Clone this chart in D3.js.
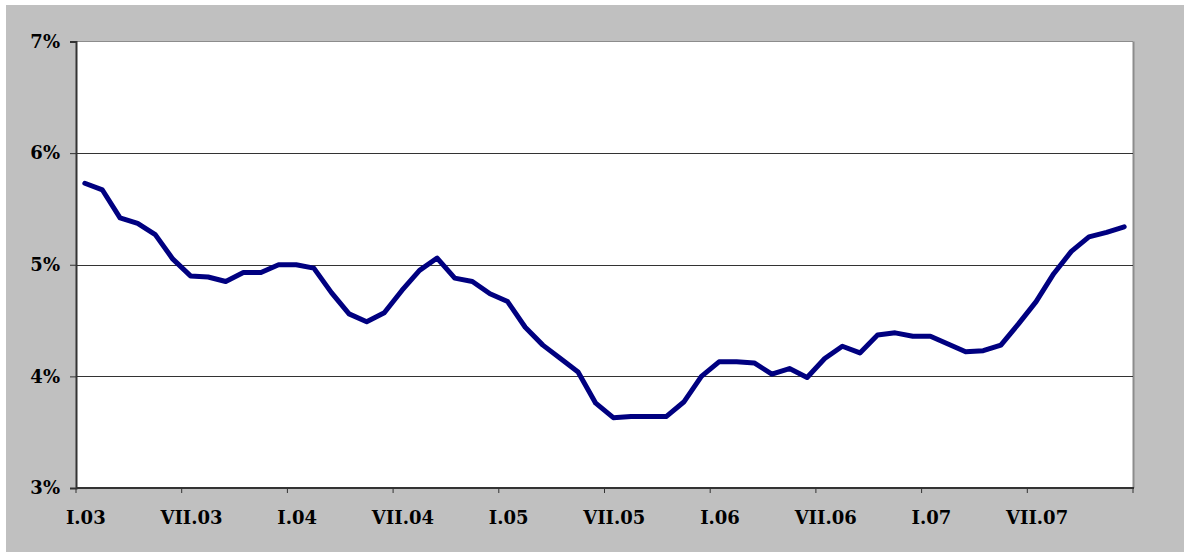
<!DOCTYPE html>
<html><head><meta charset="utf-8">
<script src="https://cdn.jsdelivr.net/npm/d3@7"></script>
<style>html,body{margin:0;padding:0;background:#fff;}svg{display:block;}</style>
</head><body>
<script>
const months = d3.range(60).map(i => `${2003 + Math.floor(i / 12)}-${String(i % 12 + 1).padStart(2, "0")}`);
const values = [5.73,5.67,5.42,5.37,5.27,5.05,4.90,4.89,4.85,4.93,4.93,5.00,
                5.00,4.97,4.75,4.56,4.49,4.57,4.77,4.95,5.06,4.88,4.85,4.74,
                4.67,4.44,4.28,4.16,4.04,3.76,3.63,3.64,3.64,3.64,3.77,4.00,
                4.13,4.13,4.12,4.02,4.07,3.99,4.16,4.27,4.21,4.37,4.39,4.36,
                4.36,4.29,4.22,4.23,4.28,4.47,4.67,4.92,5.12,5.25,5.29,5.34];
const xTickLabels = ["I.03","VII.03","I.04","VII.04","I.05","VII.05","I.06","VII.06","I.07","VII.07"];
const yTicks = [3,4,5,6,7];

const W = 1184, H = 552;
const m = {left: 76, right: 1133, top: 41.5, bottom: 488};
const svg = d3.select("body").append("svg").attr("width", W).attr("height", H);
svg.append("rect").attr("width", W).attr("height", H).attr("fill", "#fff");
svg.append("rect").attr("x", 6).attr("y", 5).attr("width", W - 6).attr("height", H - 5).attr("fill", "#c0c0c0");

const x = d3.scaleBand().domain(months).range([m.left, m.right]).padding(0);
const y = d3.scaleLinear().domain([3, 7]).range([m.bottom, m.top]);

svg.append("rect").attr("x", m.left).attr("y", m.top).attr("width", m.right - m.left).attr("height", m.bottom - m.top).attr("fill", "#fff");
svg.append("line").attr("x1", m.right + 0.5).attr("x2", m.right + 0.5).attr("y1", m.top).attr("y2", m.bottom).attr("stroke", "#8c8c8c").attr("stroke-width", 2);
svg.append("line").attr("x1", m.left).attr("x2", m.right).attr("y1", m.top).attr("y2", m.top).attr("stroke", "#8c8c8c").attr("stroke-width", 1);

// gridlines
svg.append("g").selectAll("line").data(yTicks.filter(d => d > 3 && d < 7)).join("line")
  .attr("x1", m.left).attr("x2", m.right)
  .attr("y1", d => Math.round(y(d)) + 0.5).attr("y2", d => Math.round(y(d)) + 0.5)
  .attr("stroke", "#333").attr("stroke-width", 1);

// y axis
const yAxis = svg.append("g").attr("transform", `translate(${m.left},0)`)
  .call(d3.axisLeft(y).tickValues(yTicks).tickSize(6).tickPadding(10).tickFormat(d => d + "%"));
yAxis.select(".domain").attr("stroke", "#333").attr("stroke-width", 2);
yAxis.selectAll(".tick line").attr("stroke", "#333");
yAxis.selectAll("text").attr("font-family", "DejaVu Serif").attr("font-weight", "bold").attr("font-size", 18).attr("fill", "#000");

// x axis
const tickMonths = months.filter((d, i) => i % 6 === 0);
const xAxisG = svg.append("g").attr("transform", `translate(0,${m.bottom})`);
xAxisG.append("line").attr("x1", m.left).attr("x2", m.right + 1).attr("y1", 0).attr("y2", 0).attr("stroke", "#333").attr("stroke-width", 2);
const tickPos = tickMonths.map(d => x(d)).concat([m.right]);
xAxisG.selectAll("line.t").data(tickPos).join("line").attr("class", "t")
  .attr("x1", d => d).attr("x2", d => d).attr("y1", 0).attr("y2", 5).attr("stroke", "#333");
xAxisG.selectAll("text").data(tickMonths).join("text")
  .attr("x", d => x(d) + x.bandwidth() / 2 + 1).attr("y", 36)
  .attr("text-anchor", "middle")
  .attr("font-family", "DejaVu Serif").attr("font-weight", "bold").attr("font-size", 18).attr("fill", "#000")
  .text((d, i) => xTickLabels[i]);

// line
const line = d3.line().x((d, i) => x(months[i]) + x.bandwidth() / 2).y(d => y(d));
svg.append("path").datum(values).attr("d", line).attr("fill", "none")
  .attr("stroke", "#000080").attr("stroke-width", 5).attr("stroke-linejoin", "round").attr("stroke-linecap", "round");
</script>
</body></html>
